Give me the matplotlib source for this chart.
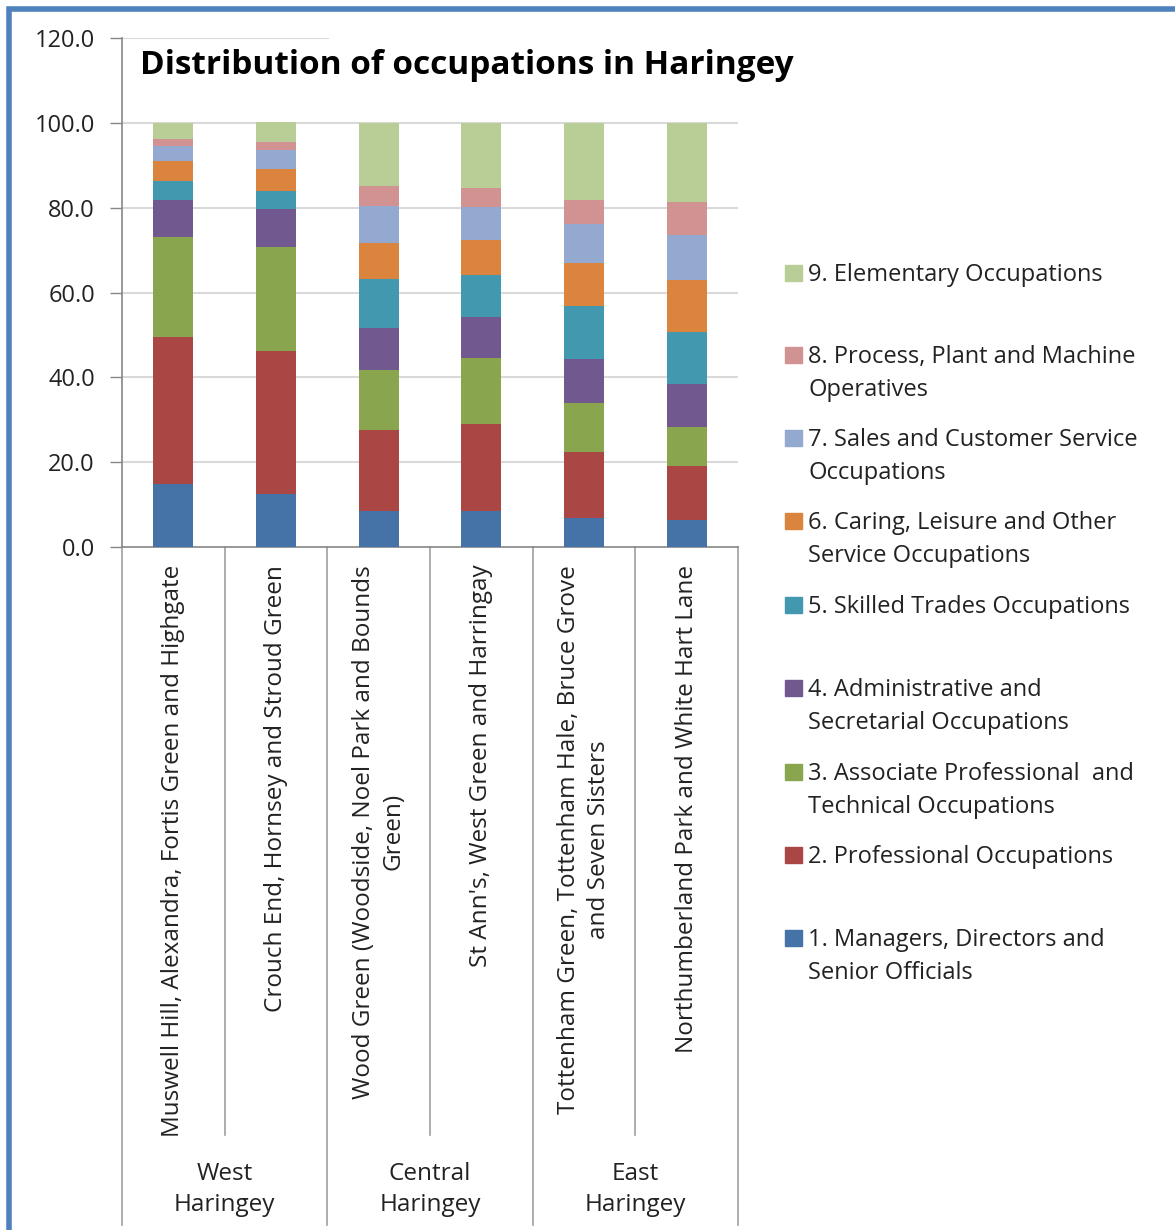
import matplotlib
matplotlib.use('Agg')
import matplotlib.pyplot as plt
from matplotlib.patches import Rectangle
from matplotlib.transforms import blended_transform_factory

plt.rcParams['font.family'] = ['Open Sans', 'DejaVu Sans']

# areas, left to right
areas = ['Muswell Hill, Alexandra, Fortis Green and Highgate',
         'Crouch End, Hornsey and Stroud Green',
         'Wood Green (Woodside, Noel Park and Bounds\nGreen)',
         "St Ann's, West Green and Harringay",
         'Tottenham Green, Tottenham Hale, Bruce Grove\nand Seven Sisters',
         'Northumberland Park and White Hart Lane']
groups = ['West\nHaringey', 'Central\nHaringey', 'East\nHaringey']

occupations = ['1. Managers, Directors and\nSenior Officials',
               '2. Professional Occupations',
               '3. Associate Professional  and\nTechnical Occupations',
               '4. Administrative and\nSecretarial Occupations',
               '5. Skilled Trades Occupations',
               '6. Caring, Leisure and Other\nService Occupations',
               '7. Sales and Customer Service\nOccupations',
               '8. Process, Plant and Machine\nOperatives',
               '9. Elementary Occupations']

# percentage of each occupation group per area
managers = [14.8, 12.6, 8.5, 8.5, 6.9, 6.3]
professional = [34.6, 33.5, 19.1, 20.4, 15.4, 12.9]
associate = [23.8, 24.7, 14.1, 15.6, 11.6, 9.0]
admin = [8.5, 8.8, 10.0, 9.7, 10.4, 10.3]
skilled = [4.7, 4.3, 11.5, 10.0, 12.4, 12.3]
caring = [4.7, 5.3, 8.5, 8.2, 10.3, 12.2]
sales = [3.4, 4.4, 8.8, 7.8, 9.1, 10.5]
process = [1.6, 1.9, 4.7, 4.4, 5.6, 7.9]
elementary = [3.9, 4.6, 14.8, 15.4, 18.3, 18.6]

colors = ['#4572A7', '#AA4643', '#89A54E', '#71588F', '#4198AF',
          '#DB843D', '#93A9CF', '#D19392', '#B9CD96']

series = [managers, professional, associate, admin, skilled,
          caring, sales, process, elementary]

fig = plt.figure(figsize=(11.75, 12.3), dpi=100)
W, H = 1175, 1230
ax = fig.add_axes([122 / W, 1 - 547 / H, 616 / W, 509 / H])

x = list(range(len(areas)))
bottom = [0.0] * len(areas)
for vals, col in zip(series, colors):
    ax.bar(x, vals, width=0.39, bottom=bottom, color=col, zorder=3)
    bottom = [b + v for b, v in zip(bottom, vals)]

ax.set_xlim(-0.5, len(areas) - 0.5)
ax.set_ylim(0, 120)
ax.set_yticks(range(0, 121, 20))
ax.set_yticklabels(['%.1f' % t for t in range(0, 121, 20)],
                   fontsize=17, color='#222222')
ax.set_xticks([])
ax.tick_params(axis='y', direction='out', length=8.5, width=1,
               color='#868686', pad=11)
for t in range(20, 101, 20):
    ax.axhline(t, color='#D9D9D9', lw=1.5, zorder=1)
ax.axhline(120, xmax=(328 - 122) / 616, color='#D9D9D9', lw=1.5, zorder=1)
for s in ['top', 'right']:
    ax.spines[s].set_visible(False)
ax.spines['left'].set_color('#868686')
ax.spines['bottom'].set_color('#868686')
ax.spines['left'].set_linewidth(1.2)
ax.spines['bottom'].set_linewidth(1.2)

trans = blended_transform_factory(ax.transData, ax.transAxes)
# category labels
for i, name in enumerate(areas):
    ax.text(i, -0.035, name, transform=trans, rotation=90, ha='center',
            va='top', multialignment='center', fontsize=17.5,
            color='#222222', linespacing=1.3)
# divider lines
for b in [0.5, 2.5, 4.5]:
    ax.plot([b, b], [0, -1.155], transform=trans, color='#A0A0A0',
            lw=1.2, clip_on=False)
for b in [-0.5, 1.5, 3.5, 5.5]:
    ax.plot([b, b], [0, -1.332], transform=trans, color='#A0A0A0',
            lw=1.2, clip_on=False)
for g, name in enumerate(groups):
    ax.text(2 * g + 0.5, -1.262, name, transform=trans, ha='center',
            va='center', fontsize=17.5, color='#222222', linespacing=1.35)

# title
fig.text(140 / W, 1 - 65 / H, 'Distribution of occupations in Haringey',
         fontsize=24, fontweight='bold', ha='left', va='center',
         color='black')

# legend, drawn by hand (9 at the top), one text per line
leg_y = [273, 355, 438, 521, 605, 688, 772, 855, 938]
for k, y in enumerate(leg_y):
    idx = 8 - k
    fig.patches.append(Rectangle((785 / W, 1 - (y + 8) / H), 17 / W, 16 / H,
                                 transform=fig.transFigure,
                                 color=colors[idx]))
    for j, line in enumerate(occupations[idx].split('\n')):
        fig.text(808 / W, 1 - (y + 8 + 33 * j) / H, line, fontsize=17,
                 ha='left', va='baseline', color='#222222')

# blue frame on the top / left edge
fig.patches.append(Rectangle((9 / W, -0.05), 1.1, 1 - 9 / H + 0.05,
                             transform=fig.transFigure, fill=False,
                             edgecolor='#4F81BD', lw=4))

fig.savefig('out.png', dpi=100)
